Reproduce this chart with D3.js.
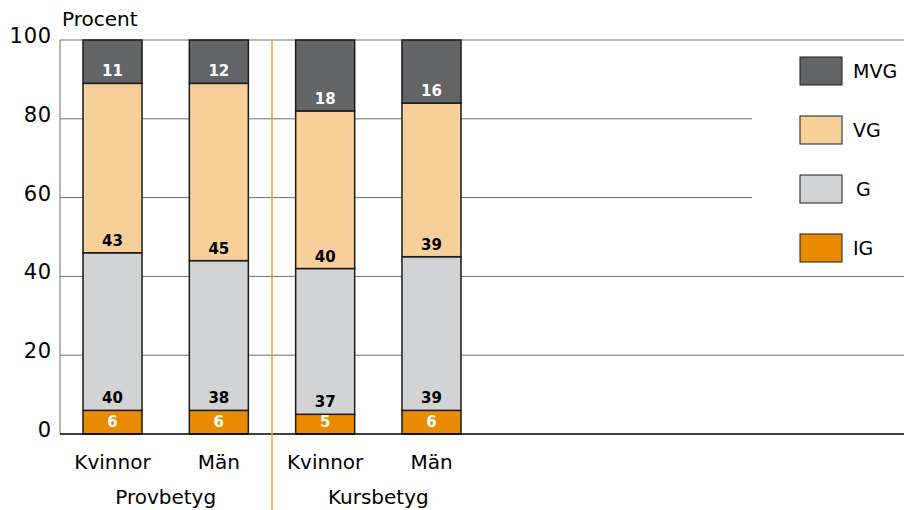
<!DOCTYPE html>
<html lang="sv">
<head>
    <meta charset="UTF-8">
    <title>Provbetyg och kursbetyg</title>
    <script src="https://d3js.org/d3.v7.min.js"></script>
    <style>
        body {
            margin: 0;
            background: #fff;
        }
        svg text {
            font-family: "DejaVu Sans", Arial, sans-serif;
        }
        .seg-label {
            font-weight: bold;
            font-size: 15px;
            text-anchor: middle;
        }
    </style>
</head>
<body>
    <div id="chart"></div>

    <script>
        // Data
        const bars = ["Prov-K", "Prov-M", "Kurs-K", "Kurs-M"];
        const barLabels = ["Kvinnor", "Män", "Kvinnor", "Män"];
        const groups = ["Provbetyg", "Kursbetyg"];
        const grades = ["IG", "G", "VG", "MVG"];
        const igValues = [6, 6, 5, 6];
        const gValues = [40, 38, 37, 39];
        const vgValues = [43, 45, 40, 39];
        const mvgValues = [11, 12, 18, 16];
        const yTicks = [0, 20, 40, 60, 80, 100];

        const colors = {
            IG: "#e98b00",
            G: "#d1d3d4",
            VG: "#f6cf99",
            MVG: "#636466"
        };
        const labelColors = { IG: "#fff", G: "#000", VG: "#000", MVG: "#fff" };

        const rows = bars.map((b, i) => ({
            bar: b,
            IG: igValues[i],
            G: gValues[i],
            VG: vgValues[i],
            MVG: mvgValues[i]
        }));

        const width = 904, height = 510;
        const plotLeft = 60, plotRight = 904, plotTop = 40, plotBottom = 434;

        const svg = d3.select("#chart")
            .append("svg")
            .attr("width", width)
            .attr("height", height);

        const y = d3.scaleLinear().domain([0, 100]).range([plotBottom, plotTop]);
        const x = d3.scaleBand()
            .domain(bars)
            .range([83, 461])
            .paddingInner(0.445)
            .paddingOuter(0);

        // Gridlines
        svg.append("g")
            .selectAll("line")
            .data(yTicks.filter(d => d > 0))
            .join("line")
            .attr("x1", plotLeft)
            .attr("x2", plotRight)
            .attr("y1", d => y(d))
            .attr("y2", d => y(d))
            .attr("stroke", "#6d6e70")
            .attr("stroke-width", 1);

        // Legend background (hides gridlines behind it)
        svg.append("rect")
            .attr("x", 752)
            .attr("y", y(100) + 1)
            .attr("width", plotRight - 752)
            .attr("height", y(40) - y(100) - 2)
            .attr("fill", "#fff");

        // Left axis line
        svg.append("line")
            .attr("x1", plotLeft).attr("x2", plotLeft)
            .attr("y1", y(100)).attr("y2", y(0))
            .attr("stroke", "#6d6e70");

        // Tick labels
        svg.append("g")
            .selectAll("text")
            .data(yTicks)
            .join("text")
            .attr("x", 52)
            .attr("y", d => y(d) - 3)
            .attr("text-anchor", "end")
            .attr("dominant-baseline", "middle")
            .attr("font-size", 21)
            .attr("letter-spacing", 0.8)
            .attr("fill", "#000")
            .text(d => d);

        svg.append("text")
            .attr("x", 62)
            .attr("y", 26)
            .attr("font-size", 20)
            .text("Procent");

        // Stacks
        const stack = d3.stack().keys(grades);
        const series = stack(rows);

        const clampTop = v => Math.min(100, v);

        const layer = svg.append("g")
            .selectAll("g")
            .data(series)
            .join("g")
            .attr("fill", d => colors[d.key]);

        layer.selectAll("rect")
            .data(d => d.map(p => ({ key: d.key, p })))
            .join("rect")
            .attr("x", d => x(d.p.data.bar))
            .attr("width", x.bandwidth())
            .attr("y", d => y(clampTop(d.p[1])))
            .attr("height", d => y(clampTop(d.p[0])) - y(clampTop(d.p[1])))
            .attr("stroke", "#1a1a1a")
            .attr("stroke-width", 1.5);

        layer.selectAll("text")
            .data(d => d.map(p => ({ key: d.key, p })))
            .join("text")
            .attr("class", "seg-label")
            .attr("x", d => x(d.p.data.bar) + x.bandwidth() / 2)
            .attr("y", d => y(d.p[0]) - 12)
            .attr("dominant-baseline", "central")
            .attr("fill", d => labelColors[d.key])
            .text(d => d.p.data[d.key]);

        // Baseline
        svg.append("line")
            .attr("x1", plotLeft).attr("x2", plotRight)
            .attr("y1", y(0)).attr("y2", y(0))
            .attr("stroke", "#000")
            .attr("stroke-width", 1.5);

        // Separator between groups
        const sepX = (x(bars[1]) + x.bandwidth() + x(bars[2])) / 2;
        svg.append("line")
            .attr("x1", sepX).attr("x2", sepX)
            .attr("y1", y(100)).attr("y2", height)
            .attr("stroke", "#f0a030")
            .attr("stroke-width", 1.5);

        // Category labels
        svg.append("g")
            .selectAll("text")
            .data(bars)
            .join("text")
            .attr("x", d => x(d) + x.bandwidth() / 2)
            .attr("y", 462)
            .attr("text-anchor", "middle")
            .attr("dominant-baseline", "central")
            .attr("font-size", 20)
            .text((d, i) => barLabels[i]);

        // Group labels
        svg.append("g")
            .selectAll("text")
            .data(groups)
            .join("text")
            .attr("x", (d, i) => (x(bars[i * 2]) + x(bars[i * 2 + 1]) + x.bandwidth()) / 2)
            .attr("y", 497)
            .attr("text-anchor", "middle")
            .attr("dominant-baseline", "central")
            .attr("font-size", 20)
            .text(d => d);

        // Legend
        const legendOrder = grades.slice().reverse();
        const legend = svg.append("g")
            .selectAll("g")
            .data(legendOrder)
            .join("g")
            .attr("transform", (d, i) => `translate(800, ${57 + i * 59})`);

        legend.append("rect")
            .attr("width", 42)
            .attr("height", 28)
            .attr("fill", d => colors[d])
            .attr("stroke", "#1a1a1a")
            .attr("stroke-width", 1);

        legend.append("text")
            .attr("x", d => d === "G" ? 56 : 53)
            .attr("y", 14)
            .attr("dominant-baseline", "central")
            .attr("font-size", 19)
            .text(d => d);
    </script>
</body>
</html>
